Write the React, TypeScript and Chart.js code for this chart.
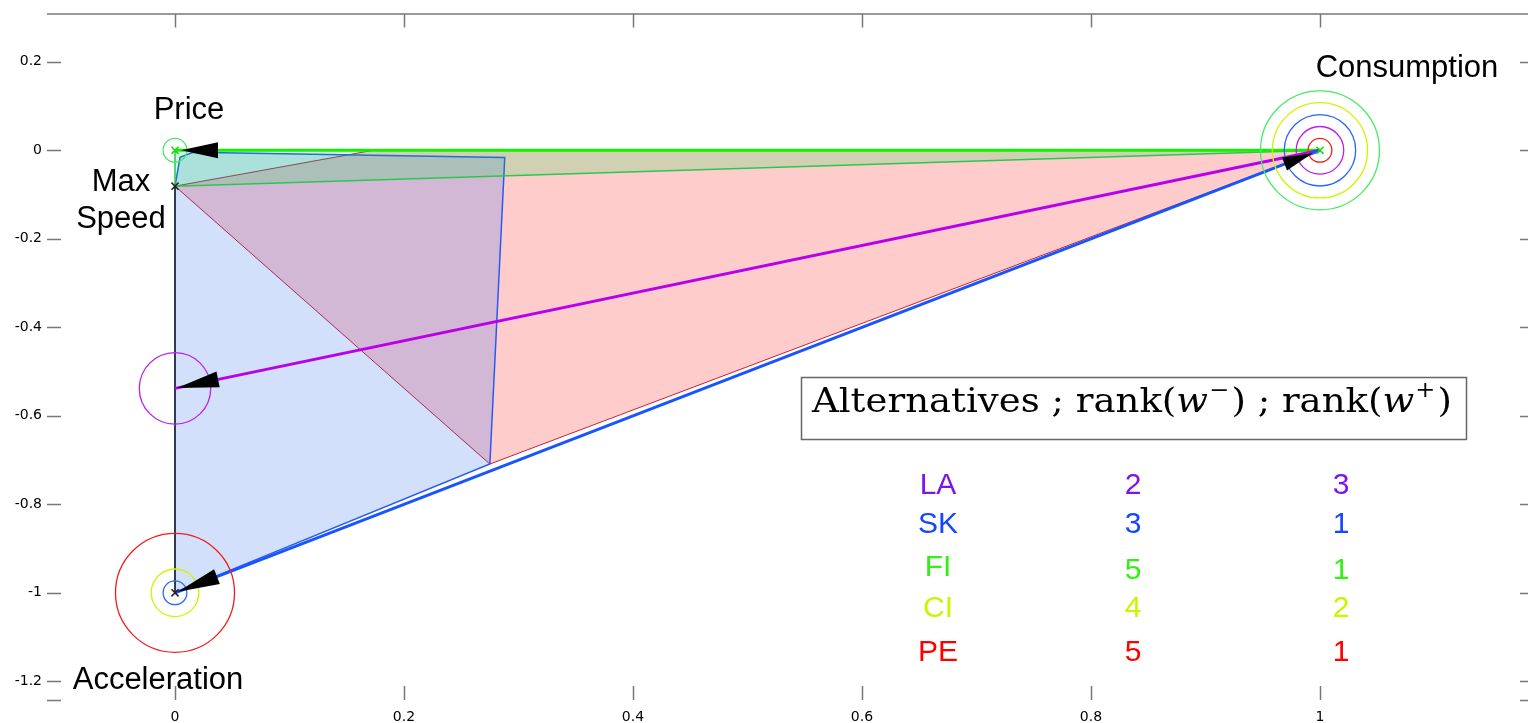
import React, { useEffect, useRef } from 'react';
import { Chart, registerables } from 'chart.js';
Chart.register(...registerables);

// ---------- data ----------
const xTickValues = [0, 0.2, 0.4, 0.6, 0.8, 1];
const yTickValues = [0.2, 0, -0.2, -0.4, -0.6, -0.8, -1, -1.2];
const xMin = -0.1118;
const xMax = 1.1817;
const yMin = -1.2422;
const yMax = 0.3094;

const criteriaNames = ['Price', 'Max\nSpeed', 'Acceleration', 'Consumption'];
const criteriaX = [0, 0, 0, 1];
const criteriaY = [0, -0.081, -1, 0];

const altNames = ['LA', 'SK', 'FI', 'CI', 'PE'];
const rankMinus = [2, 3, 5, 4, 5];
const rankPlus = [3, 1, 1, 2, 1];

// polygons
const bluePolyX = [0, 0.275, 0.288, 0.0157, 0.0044, 0, 0];
const bluePolyY = [-1, -0.709, -0.016, -0.0045, -0.016, -0.081, -1];
const redPolyX = [0, 0.173, 1, 0.275, 0];
const redPolyY = [-0.081, 0, 0, -0.709, -0.081];
const greenPolyX = [0, 1, 0, 0];
const greenPolyY = [0, 0, -0.081, 0];

// arrows (thick lines with heads)
const arrowAlt = ['FI', 'LA', 'SK'];
const arrowFromX = [1, 1, 1];
const arrowFromY = [0, 0, 0];
const arrowToX = [0, 0, 0];
const arrowToY = [0, -0.538, -1];
// extra head pointing at consumption
const extraHeadFrom = [0, -1];
const extraHeadTo = [1, 0];

// circles (alternative, centre, level)
const circleAlt = ['FI', 'CI', 'SK', 'LA', 'PE', 'PE', 'CI', 'SK', 'LA', 'FI'];
const circleX = [1, 1, 1, 1, 1, 0, 0, 0, 0, 0];
const circleY = [0, 0, 0, 0, 0, -1, -1, -1, -0.538, 0];
const circleLevel = [5, 4, 3, 2, 1, 5, 2, 1, 3, 1];

// ---------- styles ----------
const circleColor: Record<string, string> = {
  LA: 'rgb(190,30,240)',
  SK: 'rgb(40,100,255)',
  FI: 'rgb(70,235,100)',
  CI: 'rgb(205,245,0)',
  PE: 'rgb(240,30,30)',
};
const lineColor: Record<string, string> = {
  LA: 'rgb(185,0,235)',
  SK: 'rgb(25,85,255)',
  FI: 'rgb(20,240,0)',
};
const textColor: Record<string, string> = {
  LA: 'rgb(125,20,235)',
  SK: 'rgb(20,70,255)',
  FI: 'rgb(50,240,20)',
  CI: 'rgb(200,245,0)',
  PE: 'rgb(255,0,0)',
};
const SANS = '"Liberation Sans", Arial, Helvetica, sans-serif';
const TICKFONT = '"DejaVu Sans", sans-serif';
const SERIF = '"DejaVu Serif", serif';

const pts = (xs: number[], ys: number[]) => xs.map((x, i) => ({ x, y: ys[i] }));
const fmt = (v: number) => String(Math.round(v * 10) / 10);

function head(ctx: CanvasRenderingContext2D, fx: number, fy: number, tx: number, ty: number, len: number, hw: number, off: number) {
  const dx = tx - fx, dy = ty - fy;
  const L = Math.hypot(dx, dy);
  const ux = dx / L, uy = dy / L;
  const tipX = tx - ux * off, tipY = ty - uy * off;
  const bx = tipX - ux * len, by = tipY - uy * len;
  ctx.beginPath();
  ctx.moveTo(tipX, tipY);
  ctx.lineTo(bx - uy * hw, by + ux * hw);
  ctx.lineTo(bx + uy * hw, by - ux * hw);
  ctx.closePath();
  ctx.fill();
}

const overlay = {
  id: 'overlay',
  afterDatasetsDraw(chart: any) {
    const ctx: CanvasRenderingContext2D = chart.ctx;
    const xs = chart.scales.x, ys = chart.scales.y;
    const area = chart.chartArea;
    const X = (v: number) => xs.getPixelForValue(v);
    const Y = (v: number) => ys.getPixelForValue(v);
    ctx.save();

    // arrow heads
    ctx.fillStyle = '#000';
    const headLen = [37, 42, 42];
    const headOff = [6, 2, 3];
    arrowAlt.forEach((_, i) => {
      head(ctx, X(arrowFromX[i]), Y(arrowFromY[i]), X(arrowToX[i]), Y(arrowToY[i]), headLen[i], 8, headOff[i]);
    });
    head(ctx, X(extraHeadFrom[0]), Y(extraHeadFrom[1]), X(extraHeadTo[0]), Y(extraHeadTo[1]), 30, 7, 8);

    // axes frame: top line and tick marks
    ctx.strokeStyle = '#777';
    ctx.lineWidth = 1.5;
    ctx.beginPath();
    ctx.moveTo(area.left, area.top + 0.5);
    ctx.lineTo(area.right, area.top + 0.5);
    xTickValues.forEach((v) => {
      const px = Math.round(X(v)) + 0.5;
      ctx.moveTo(px, area.top);
      ctx.lineTo(px, area.top + 14);
      ctx.moveTo(px, area.bottom - 14);
      ctx.lineTo(px, area.bottom);
    });
    yTickValues.forEach((v) => {
      const py = Math.round(Y(v)) + 0.5;
      ctx.moveTo(area.left, py);
      ctx.lineTo(area.left + 14, py);
      ctx.moveTo(area.right - 8, py);
      ctx.lineTo(area.right, py);
    });
    ctx.moveTo(area.left + 0, area.bottom + 0.5);
    ctx.lineTo(area.left + 14, area.bottom + 0.5);
    ctx.moveTo(area.right - 8, area.bottom + 0.5);
    ctx.lineTo(area.right, area.bottom + 0.5);
    ctx.stroke();

    // criteria labels
    ctx.fillStyle = '#000';
    ctx.font = `31px ${SANS}`;
    ctx.textAlign = 'center';
    ctx.textBaseline = 'alphabetic';
    const labelPos = [
      [189, 119],
      [121, 191],
      [158, 689],
      [1407, 77],
    ];
    criteriaNames.forEach((n, i) => {
      const lines = n.split('\n');
      lines.forEach((ln, j) => ctx.fillText(ln, labelPos[i][0], labelPos[i][1] + j * 37));
    });

    // legend box
    ctx.strokeStyle = '#666';
    ctx.lineWidth = 1.5;
    ctx.fillStyle = '#fff';
    ctx.fillRect(801, 377, 666, 63);
    ctx.strokeRect(801.5, 377.5, 665, 62);

    const segs: { t: string; f: string; dy: number }[] = [
      { t: 'Alternatives ; rank(', f: `34px ${SERIF}`, dy: 0 },
      { t: 'w', f: `italic 34px ${SERIF}`, dy: 0 },
      { t: '\u2212', f: `22px ${SERIF}`, dy: -15 },
      { t: ') ; rank(', f: `34px ${SERIF}`, dy: 0 },
      { t: 'w', f: `italic 34px ${SERIF}`, dy: 0 },
      { t: '+', f: `22px ${SERIF}`, dy: -15 },
      { t: ')', f: `34px ${SERIF}`, dy: 0 },
    ];
    let total = 0;
    const widths = segs.map((s) => {
      ctx.font = s.f;
      const w = ctx.measureText(s.t).width + (s.dy ? 3 : 0);
      total += w;
      return w;
    });
    const targetW = 640;
    const sx = targetW / total;
    ctx.save();
    ctx.translate(812, 412);
    ctx.scale(sx, 1);
    ctx.fillStyle = '#000';
    ctx.textAlign = 'left';
    let cx = 0;
    segs.forEach((s, i) => {
      ctx.font = s.f;
      ctx.fillText(s.t, cx + (s.dy ? 1 : 0), s.dy);
      cx += widths[i];
    });
    ctx.restore();

    // table
    const rowBase = [494, 533, 576, 617, 661];
    ctx.font = `30px ${SANS}`;
    ctx.textAlign = 'center';
    altNames.forEach((n, i) => {
      ctx.fillStyle = textColor[n];
      ctx.fillText(n, 938, rowBase[i]);
      ctx.fillText(String(rankMinus[i]), 1133, rowBase[i] + (i === 2 ? 3 : 0));
      ctx.fillText(String(rankPlus[i]), 1341, rowBase[i] + (i === 2 ? 3 : 0));
    });

    ctx.restore();
  },
};

export default function App() {
  const ref = useRef<HTMLCanvasElement>(null);
  useEffect(() => {
    document.body.style.margin = '0';
    const canvas = ref.current!;
    const datasets: any[] = [];

    // polygons (red drawn first, blue over it, green on top)
    datasets.push({
      type: 'line', data: pts(redPolyX, redPolyY), showLine: true, fill: 'shape',
      backgroundColor: 'rgba(255,0,0,0.2)', borderColor: 'rgb(200,30,50)', borderWidth: 1,
      pointRadius: 0, tension: 0, order: 100,
    });
    datasets.push({
      type: 'line', data: pts(bluePolyX, bluePolyY), showLine: true, fill: 'shape',
      backgroundColor: 'rgba(30,100,240,0.2)', borderColor: 'rgb(40,90,240)', borderWidth: 1.5,
      pointRadius: 0, tension: 0, order: 99,
    });
    datasets.push({
      type: 'line', data: pts(greenPolyX, greenPolyY), showLine: true, fill: 'shape',
      backgroundColor: 'rgba(0,220,60,0.18)', borderColor: 'rgb(40,200,80)', borderWidth: 1.5,
      pointRadius: 0, tension: 0, order: 98,
    });
    // axis line at x = 0
    datasets.push({
      type: 'line', data: pts([0, 0], [-0.081, -1]), showLine: true, fill: false,
      borderColor: 'rgba(40,40,40,0.8)', borderWidth: 1, pointRadius: 0, order: 97,
    });
    // thick arrows
    arrowAlt.forEach((a, i) => {
      datasets.push({
        type: 'line', data: pts([arrowFromX[i], arrowToX[i]], [arrowFromY[i], arrowToY[i]]),
        showLine: true, fill: false, borderColor: lineColor[a], borderWidth: 3,
        pointRadius: 0, order: 50 - i,
      });
    });
    // circles
    circleAlt.forEach((a, i) => {
      datasets.push({
        type: 'bubble', data: [{ x: circleX[i], y: circleY[i], r: circleLevel[i] * 11.9 }],
        backgroundColor: 'rgba(0,0,0,0)', borderColor: circleColor[a], borderWidth: 1.3, order: 20,
      });
    });
    // criteria markers
    datasets.push({
      type: 'scatter', data: pts(criteriaX, criteriaY), showLine: false,
      pointStyle: 'crossRot', pointRadius: 5, borderWidth: 1.5,
      borderColor: ['rgb(20,220,20)', '#222', '#222', 'rgb(20,220,20)'], order: 1,
    });

    const chart = new Chart(canvas, {
      type: 'scatter',
      data: { datasets },
      options: {
        animation: false,
        responsive: false,
        maintainAspectRatio: false,
        layout: { autoPadding: false, padding: { top: 8, right: 0, left: 0, bottom: 0 } },
        plugins: { legend: { display: false }, tooltip: { enabled: false } },
        elements: { line: { tension: 0 } },
        scales: {
          x: {
            type: 'linear', min: xMin, max: xMax,
            grid: { display: false, drawTicks: false },
            border: { display: false },
            afterFit: (s: any) => { s.height = 23; },
            afterBuildTicks: (s: any) => { s.ticks = xTickValues.map((v) => ({ value: v })); },
            ticks: { callback: (v: any) => fmt(Number(v)), font: { family: TICKFONT, size: 14 }, color: '#000', padding: 9, maxRotation: 0, autoSkip: false },
          },
          y: {
            type: 'linear', min: yMin, max: yMax,
            grid: { display: false, drawTicks: false },
            border: { display: false },
            afterFit: (s: any) => { s.width = 47; },
            afterBuildTicks: (s: any) => { s.ticks = yTickValues.map((v) => ({ value: v })); },
            ticks: { callback: (v: any) => fmt(Number(v)), font: { family: TICKFONT, size: 14 }, color: '#000', padding: 5, autoSkip: false },
          },
        },
      } as any,
      plugins: [overlay],
    });
    return () => chart.destroy();
  }, []);
  return (
    <div style={{ width: 1528, height: 723, background: '#fff' }}>
      <canvas ref={ref} width={1528} height={723} style={{ display: 'block' }} />
    </div>
  );
}
